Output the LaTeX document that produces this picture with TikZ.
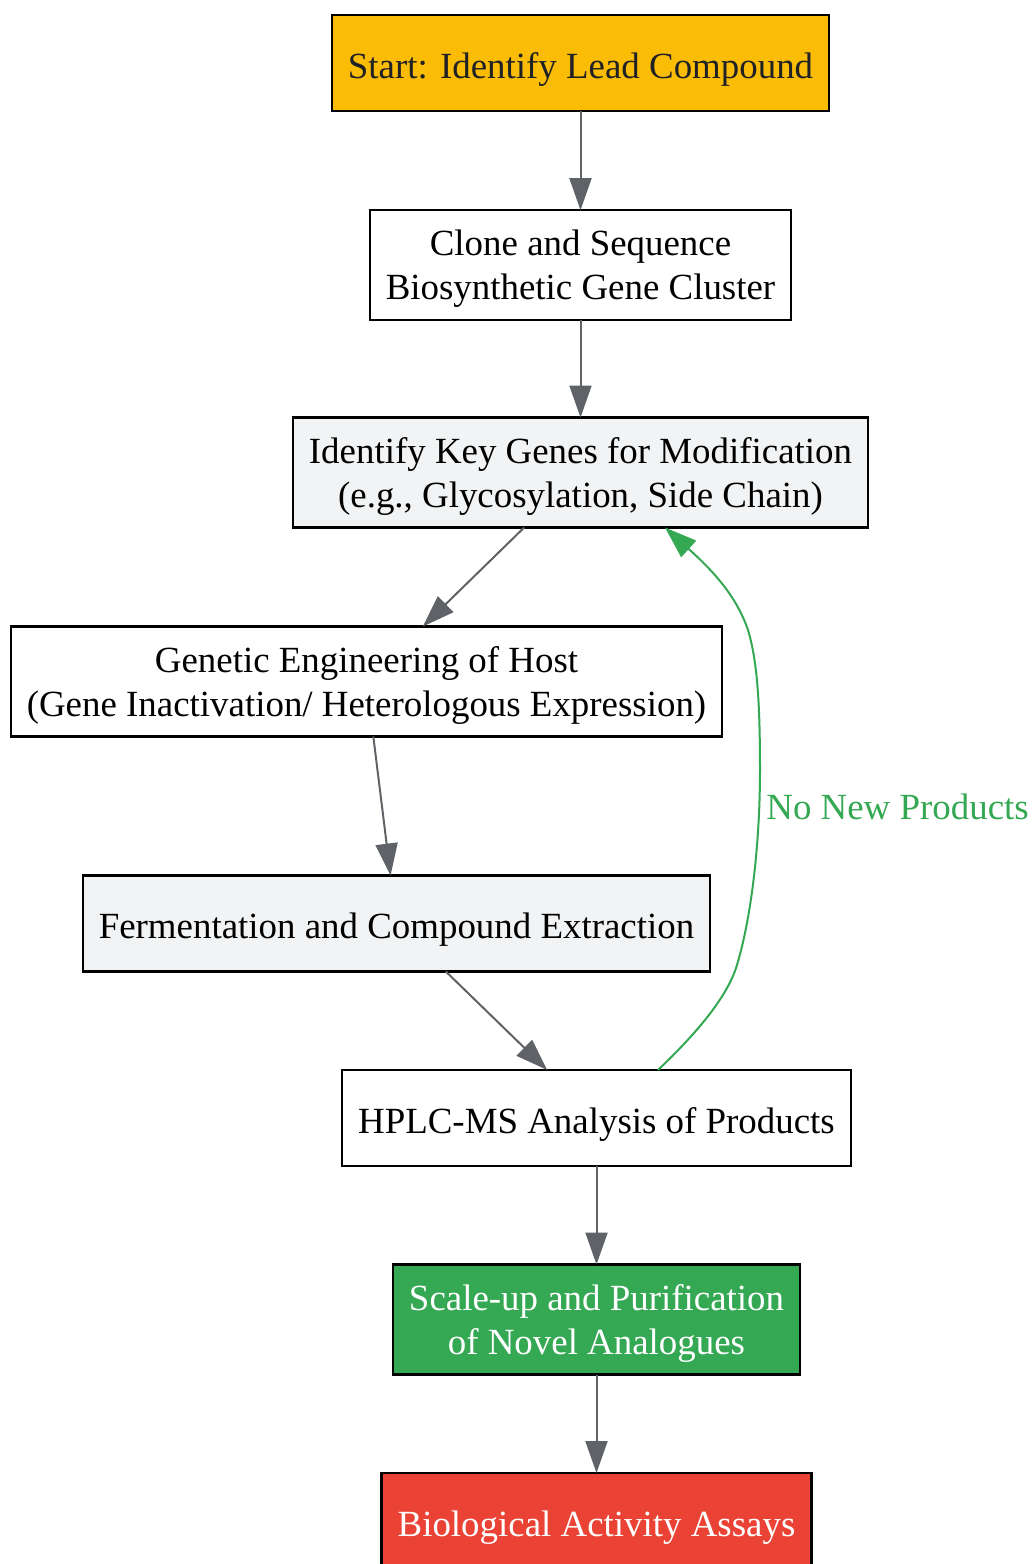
\documentclass[tikz,border=0pt]{standalone}
\usepackage{fontspec}
\setmainfont{Liberation Serif}
\usetikzlibrary{arrows.meta}

\definecolor{leadyellow}{HTML}{FBBC05}
\definecolor{stepgray}{HTML}{F1F3F4}
\definecolor{okgreen}{HTML}{34A853}
\definecolor{assayred}{HTML}{EA4335}
\definecolor{edgegray}{HTML}{5F6368}
\definecolor{darktext}{HTML}{202124}

\begin{document}
\begin{tikzpicture}[x=0.5pt,y=-0.5pt,
        box/.style={draw=black, line width=1.2pt, rectangle, align=center,
            font=\fontsize{18.45}{22}\selectfont, inner xsep=8pt,
            minimum height=48pt, outer sep=0pt},
        oneline/.style={box, inner ysep=6pt, text height=15pt, text depth=0pt},
        twoline/.style={box, inner ysep=10pt, text depth=0pt},
        flow/.style={draw=edgegray, line width=1pt, -{Triangle[length=16pt,width=11pt]}},
        loop/.style={draw=okgreen, line width=1pt, -{Triangle[length=16pt,width=11pt]}}]
    \useasboundingbox (0,0) rectangle (1033,1564);
    \node[oneline, fill=leadyellow, text=darktext] (lead) at (580.5,63) {Start: Identify Lead Compound};
    \node[twoline, fill=white] (clone) at (580.5,265) {Clone and Sequence\\Biosynthetic Gene Cluster};
    \node[twoline, fill=stepgray] (genes) at (580.5,472.5) {Identify Key Genes for Modification\\(e.g., Glycosylation, Side Chain)};
    \node[twoline, fill=white] (host) at (366.5,681.5) {Genetic Engineering of Host\\(Gene Inactivation/ Heterologous Expression)};
    \node[oneline, fill=stepgray] (ferment) at (396.5,923.5) {Fermentation and Compound Extraction};
    \node[oneline, fill=white] (hplc) at (596.5,1118) {HPLC-MS Analysis of Products};
    \node[twoline, fill=okgreen, text=white] (scaleup) at (596.5,1319.5) {Scale-up and Purification\\of Novel Analogues};
    \node[oneline, fill=assayred, text=white] (assays) at (596.5,1521) {Biological Activity Assays};
    % main flow
    \draw[flow] (lead) -- (clone);
    \draw[flow] (clone) -- (genes);
    \draw[flow] (genes) -- (host);
    \draw[flow] (host) -- (ferment);
    \draw[flow] (ferment) -- (hplc);
    \draw[flow] (hplc) -- (scaleup);
    \draw[flow] (scaleup) -- (assays);
    % feedback loop
    \draw[loop] ([xshift=30.75pt]hplc.north) .. controls (700,1030) and (728,995) .. (737,965)
        .. controls (752,915) and (760,840) .. (760,770)
        .. controls (760,700) and (757,660) .. (748,630)
        .. controls (736,595) and (712,570) .. ([xshift=42.25pt]genes.south);
    \node[anchor=west, text=okgreen, font=\fontsize{18.45}{22}\selectfont, inner sep=0pt] (nonew) at (766,807) {No New Products};
\end{tikzpicture}
\end{document}
